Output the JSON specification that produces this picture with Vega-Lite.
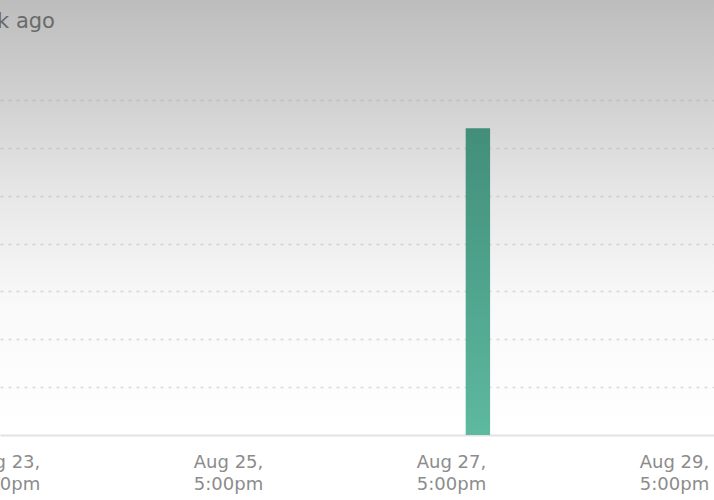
{
  "$schema": "https://vega.github.io/schema/vega-lite/v6.json",
  "width": 714,
  "height": 435,
  "autosize": {"type": "none"},
  "padding": {"left": 0, "top": 0, "right": 0, "bottom": 65},
  "background": "#ffffff",
  "title": {
    "text": "1 week ago",
    "anchor": "start",
    "frame": "group",
    "orient": "top",
    "offset": -49,
    "baseline": "alphabetic",
    "dx": -66,
    "font": "DejaVu Sans",
    "fontSize": 21,
    "fontWeight": "normal",
    "color": "#6a6a6a"
  },
  "data": {
    "values": [
      {"start": "2023-08-27T20:10:00Z", "end": "2023-08-28T01:25:00Z", "value": 6.41}
    ]
  },
  "mark": {
    "type": "rect",
    "fill": {
      "gradient": "linear",
      "x1": 0, "y1": 0, "x2": 0, "y2": 1,
      "stops": [
        {"offset": 0, "color": "#428e7a"},
        {"offset": 1, "color": "#5db99f"}
      ]
    }
  },
  "encoding": {
    "x": {
      "field": "start",
      "type": "temporal",
      "scale": {
        "type": "utc",
        "domain": [
          {"year": 2023, "month": "Aug", "date": 23, "hours": 15, "minutes": 55, "utc": true},
          {"year": 2023, "month": "Aug", "date": 30, "hours": 1, "minutes": 37, "utc": true}
        ]
      },
      "axis": {
        "title": null,
        "values": [
          {"year": 2023, "month": "Aug", "date": 23, "hours": 17, "utc": true},
          {"year": 2023, "month": "Aug", "date": 25, "hours": 17, "utc": true},
          {"year": 2023, "month": "Aug", "date": 27, "hours": 17, "utc": true},
          {"year": 2023, "month": "Aug", "date": 29, "hours": 17, "utc": true}
        ],
        "labelExpr": "[utcFormat(datum.value, '%b %-d,'), lower(utcFormat(datum.value, '%-I:%M%p'))]",
        "labelFont": "DejaVu Sans",
        "labelFontSize": 18,
        "labelLineHeight": 22,
        "labelColor": "#8c8c8c",
        "labelPadding": 18,
        "labelBaseline": "top",
        "labelFlush": false,
        "labelOverlap": false,
        "ticks": false,
        "grid": false,
        "domainColor": "#e2e2e2",
        "domainWidth": 2
      }
    },
    "x2": {"field": "end"},
    "y": {
      "field": "value",
      "type": "quantitative",
      "scale": {"domain": [0, 9.09], "nice": false, "zero": true},
      "axis": {
        "title": null,
        "values": [1, 2, 3, 4, 5, 6, 7],
        "labels": false,
        "ticks": false,
        "domain": false,
        "grid": true,
        "gridColor": "#9a9a9a",
        "gridOpacity": 0.35,
        "gridDash": [3, 5],
        "gridWidth": 1.5
      }
    },
    "y2": {"datum": 0}
  },
  "config": {
    "view": {
      "stroke": null,
      "fill": {
        "gradient": "linear",
        "x1": 0, "y1": 0, "x2": 0, "y2": 1,
        "stops": [
          {"offset": 0, "color": "#bdbdbd"},
          {"offset": 0.23, "color": "#d1d1d1"},
          {"offset": 0.46, "color": "#e8e8e8"},
          {"offset": 0.7, "color": "#f9f9f9"},
          {"offset": 1, "color": "#ffffff"}
        ]
      }
    }
  }
}
